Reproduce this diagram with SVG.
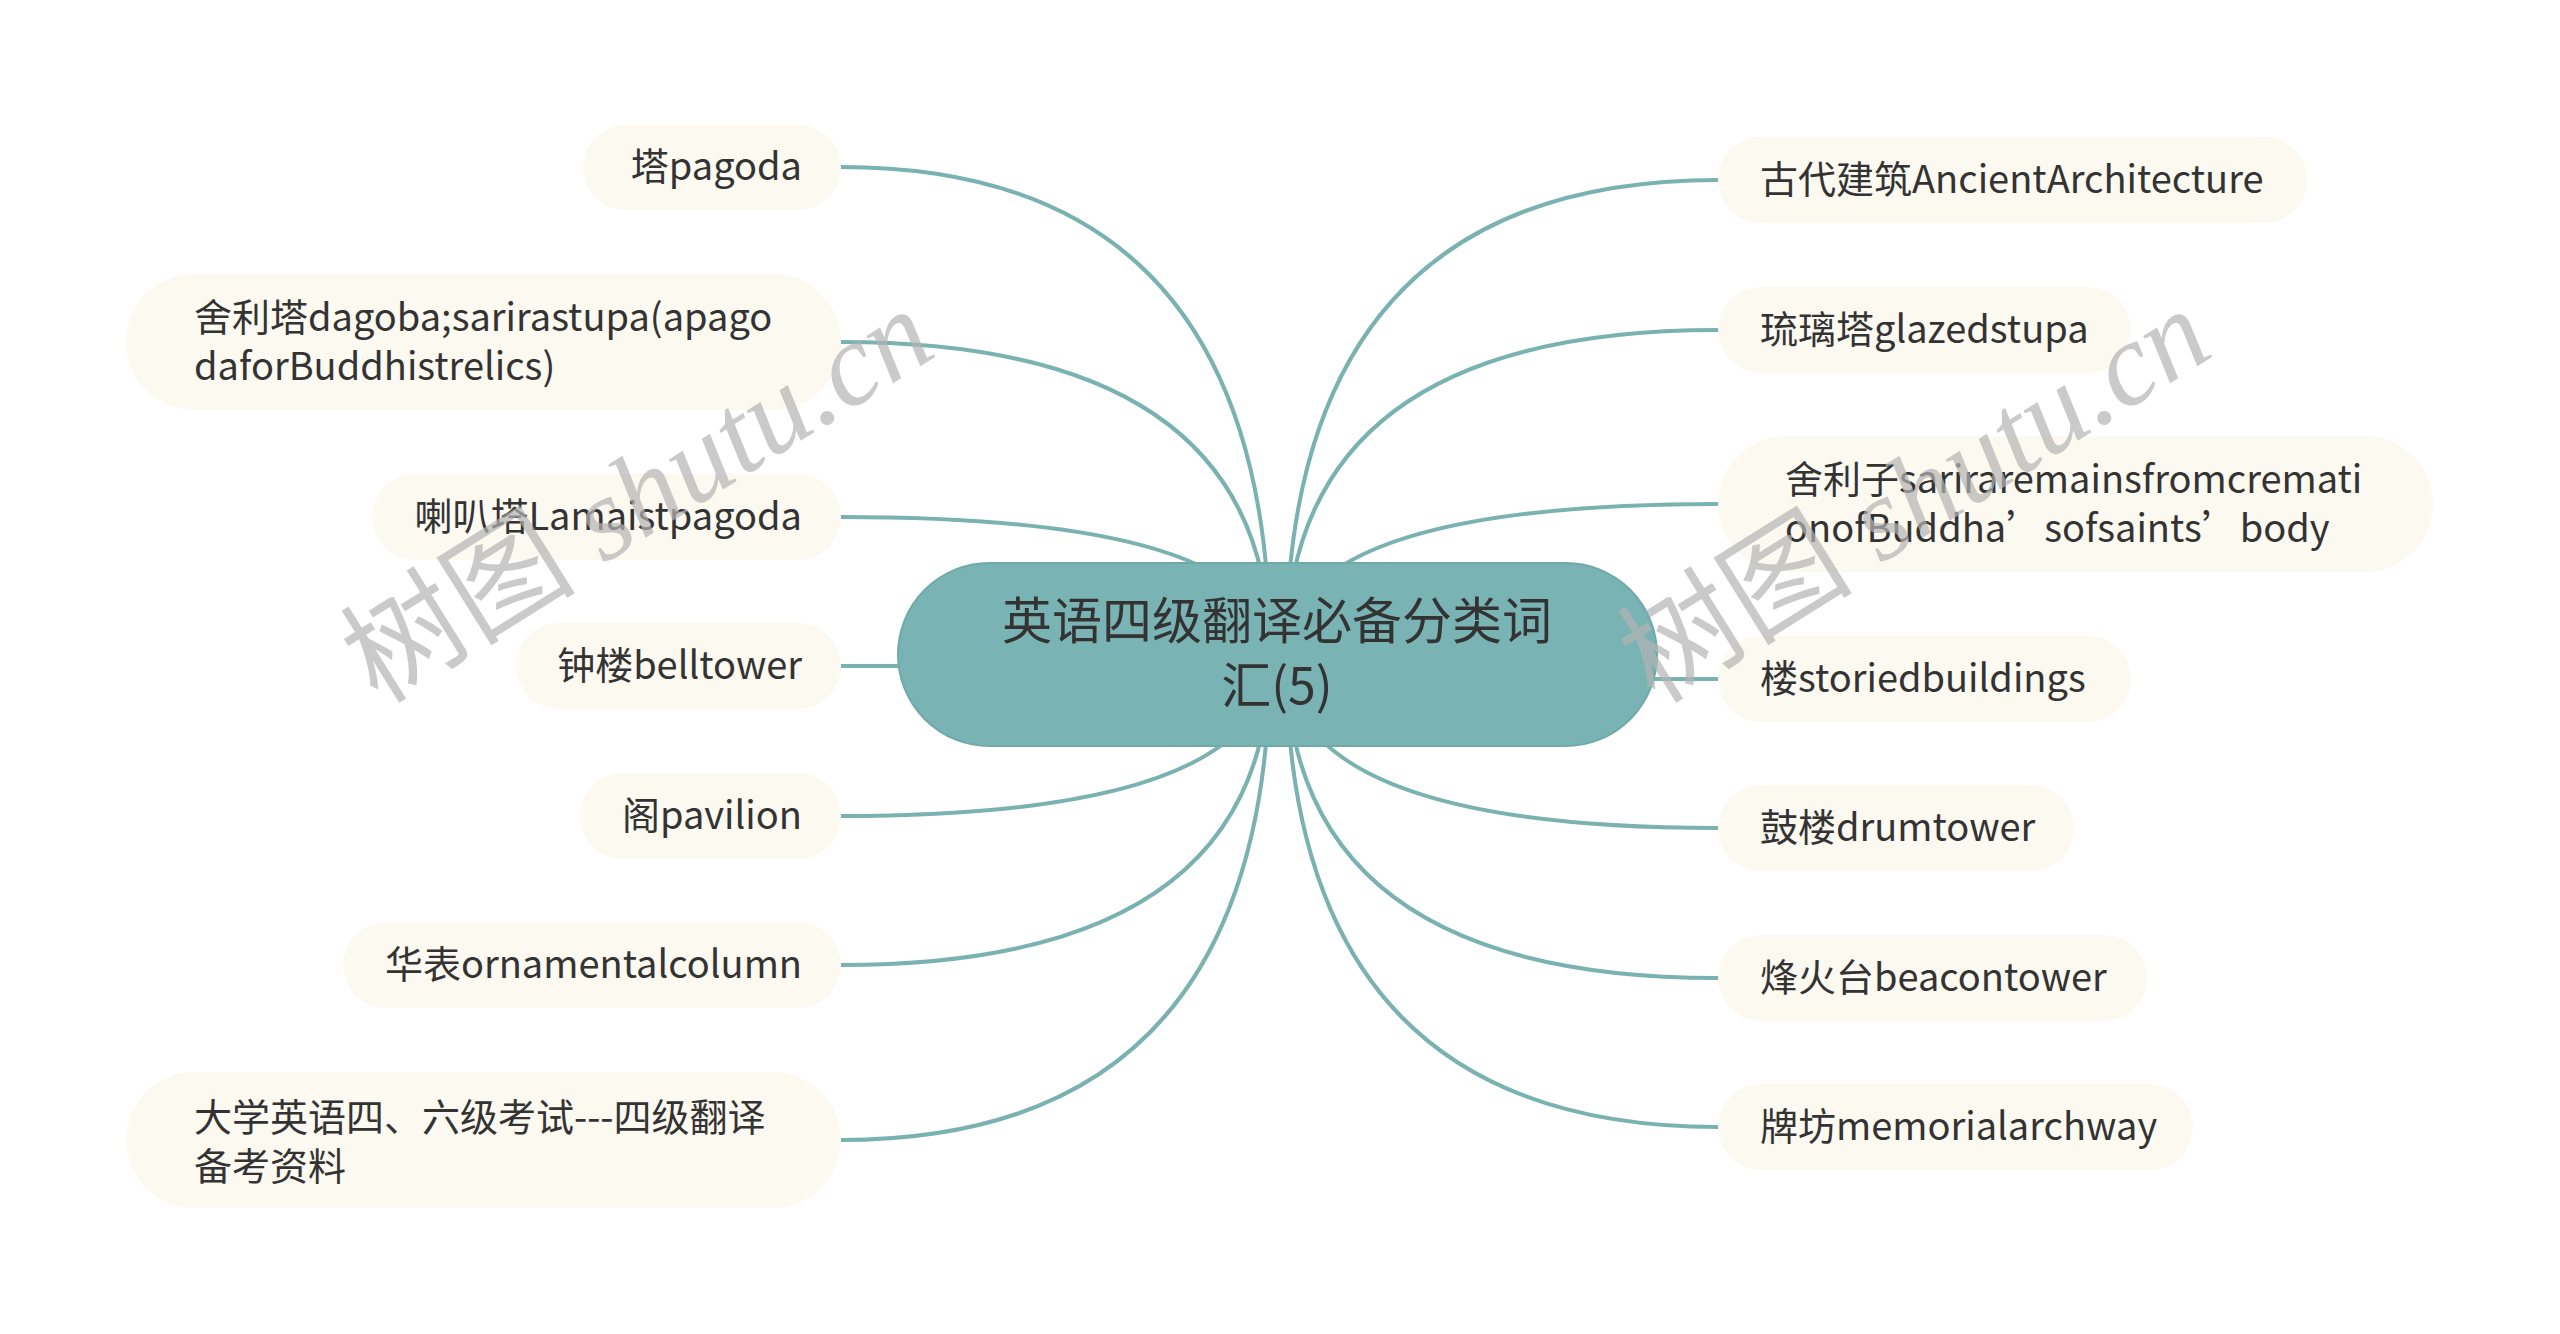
<svg xmlns="http://www.w3.org/2000/svg" width="2560" height="1334" viewBox="0 0 2560 1334">
<style>
.bg{fill:#ffffff}
.link{fill:none;stroke:#7ab1b1;stroke-width:4;stroke-linecap:round}
.node{fill:#fcf9f0}
.root{fill:#7ab3b3;stroke:#70a9a9;stroke-width:2}
.t{font-family:"Noto Sans CJK SC","Noto Sans",sans-serif;font-size:38px;fill:#333333}
.rt{font-family:"Noto Sans CJK SC","Noto Sans",sans-serif;font-size:50px;fill:#333333;text-anchor:middle}
.wm{font-family:"Liberation Serif","Noto Sans CJK SC",serif;font-size:118px;fill:#b4b4b4;opacity:0.7}
.wm .lat{font-style:italic}
</style>
<rect class="bg" x="0" y="0" width="2560" height="1334"/>
<g id="connectors">
<path class="link" d="M1270,655 Q1270,167 841,167"/>
<path class="link" d="M1270,655 Q1270,342 841,342"/>
<path class="link" d="M1270,655 Q1270,517 841,517"/>
<path class="link" d="M1270,655 Q1270,666 841,666"/>
<path class="link" d="M1270,655 Q1270,816 841,816"/>
<path class="link" d="M1270,655 Q1270,965 841,965"/>
<path class="link" d="M1270,655 Q1270,1140 841,1140"/>
<path class="link" d="M1286,655 Q1286,180 1718,180"/>
<path class="link" d="M1286,655 Q1286,330 1718,330"/>
<path class="link" d="M1286,655 Q1286,504 1718,504"/>
<path class="link" d="M1286,655 Q1286,679 1718,679"/>
<path class="link" d="M1286,655 Q1286,828 1718,828"/>
<path class="link" d="M1286,655 Q1286,978 1718,978"/>
<path class="link" d="M1286,655 Q1286,1127 1718,1127"/>
</g>
<g id="root">
<rect class="root" x="898" y="563" width="759" height="183" rx="91.5"/>
<text class="rt" x="1277" y="639">英语四级翻译必备分类词<tspan x="1277" dy="65">汇(5)</tspan></text>
</g>
<g id="n-l1">
<rect class="node" x="583" y="125" width="258" height="85" rx="42.5"/>
<text class="t" x="802" y="180" text-anchor="end">塔pagoda</text>
</g>
<g id="n-l2">
<rect class="node" x="126" y="274" width="715" height="136" rx="68"/>
<text class="t" x="194" y="331">舍利塔dagoba;sarirastupa(apago<tspan x="194" dy="49">daforBuddhistrelics)</tspan></text>
</g>
<g id="n-l3">
<rect class="node" x="372" y="474" width="469" height="86" rx="43"/>
<text class="t" x="802" y="530" text-anchor="end">喇叭塔Lamaistpagoda</text>
</g>
<g id="n-l4">
<rect class="node" x="516" y="623" width="325" height="86" rx="43"/>
<text class="t" x="802" y="679" text-anchor="end">钟楼belltower</text>
</g>
<g id="n-l5">
<rect class="node" x="580" y="773" width="261" height="86" rx="43"/>
<text class="t" x="802" y="829" text-anchor="end">阁pavilion</text>
</g>
<g id="n-l6">
<rect class="node" x="343" y="922" width="498" height="86" rx="43"/>
<text class="t" x="802" y="978" text-anchor="end">华表ornamentalcolumn</text>
</g>
<g id="n-l7">
<rect class="node" x="126" y="1072" width="715" height="136" rx="68"/>
<text class="t" x="194" y="1131">大学英语四、六级考试---四级翻译<tspan x="194" dy="49">备考资料</tspan></text>
</g>
<g id="n-r1">
<rect class="node" x="1718" y="137" width="589" height="86" rx="43"/>
<text class="t" x="1760" y="193">古代建筑AncientArchitecture</text>
</g>
<g id="n-r2">
<rect class="node" x="1718" y="287" width="413" height="86" rx="43"/>
<text class="t" x="1760" y="343">琉璃塔glazedstupa</text>
</g>
<g id="n-r3">
<rect class="node" x="1718" y="436" width="715" height="136" rx="68"/>
<text class="t" x="1785" y="493">舍利子sariraremainsfromcremati<tspan x="1785" dy="49">onofBuddha’sofsaints’body</tspan></text>
</g>
<g id="n-r4">
<rect class="node" x="1718" y="636" width="413" height="86" rx="43"/>
<text class="t" x="1760" y="692">楼storiedbuildings</text>
</g>
<g id="n-r5">
<rect class="node" x="1718" y="785" width="356" height="86" rx="43"/>
<text class="t" x="1760" y="841">鼓楼drumtower</text>
</g>
<g id="n-r6">
<rect class="node" x="1718" y="935" width="429" height="86" rx="43"/>
<text class="t" x="1760" y="991">烽火台beacontower</text>
</g>
<g id="n-r7">
<rect class="node" x="1718" y="1084" width="475" height="86" rx="43"/>
<text class="t" x="1760" y="1140">牌坊memorialarchway</text>
</g>
<g id="watermark">
<text class="wm" transform="translate(378,705) rotate(-32)" x="0" y="0">树图 <tspan class="lat">shutu.cn</tspan></text>
<text class="wm" transform="translate(1655,705) rotate(-32)" x="0" y="0">树图 <tspan class="lat">shutu.cn</tspan></text>
</g>
</svg>
